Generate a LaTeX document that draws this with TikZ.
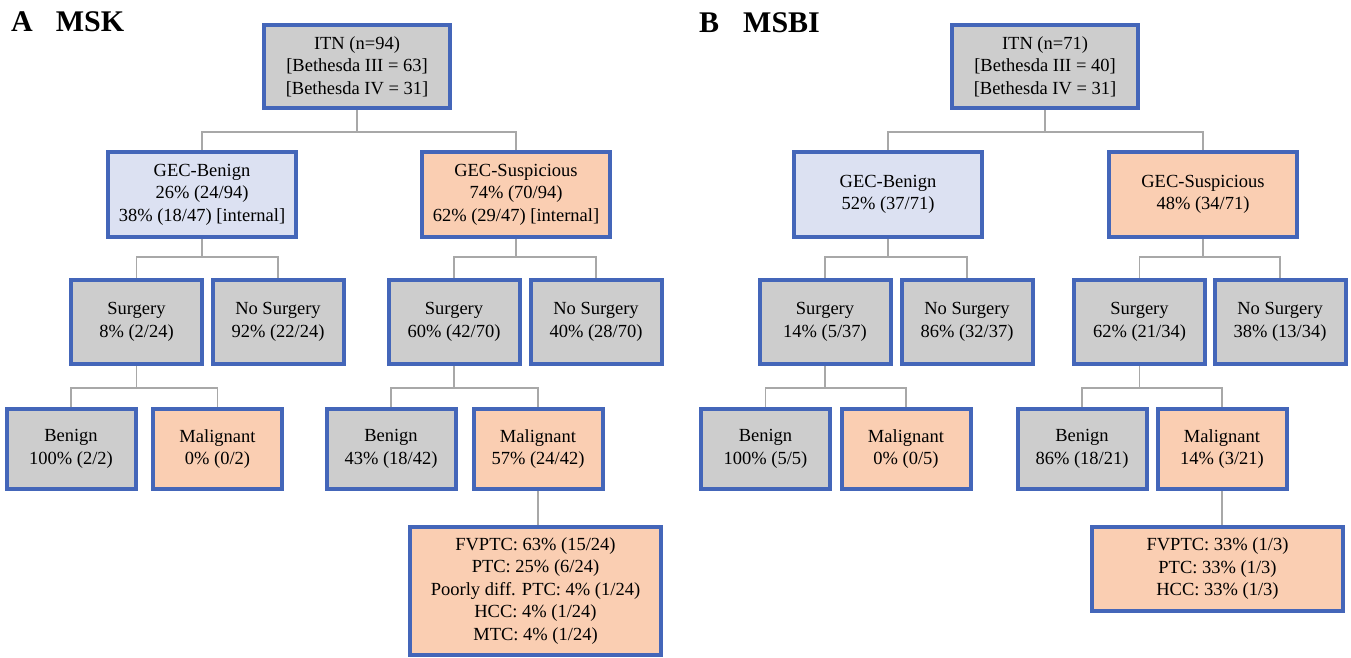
\documentclass[tikz,border=0pt]{standalone}
\usepackage{fontspec}
\setmainfont{Liberation Serif}
\definecolor{boxblue}{RGB}{68,102,185}
\definecolor{boxgrey}{RGB}{205,205,205}
\definecolor{boxlight}{RGB}{220,225,242}
\definecolor{boxpeach}{RGB}{250,206,178}
\definecolor{linkgrey}{RGB}{168,168,168}
\begin{document}
\begin{tikzpicture}[x=1pt,y=-1pt,
		box/.style={draw=boxblue, line width=4pt, align=center, inner sep=0pt, font=\fontsize{18.5}{22.5}\selectfont},
		greybox/.style={box, fill=boxgrey},
		lightbox/.style={box, fill=boxlight},
		peachbox/.style={box, fill=boxpeach},
		topbox/.style={minimum width=186pt, minimum height=83pt},
		gecbox/.style={minimum width=188pt, minimum height=85pt},
		midbox/.style={minimum width=131pt, minimum height=84pt},
		lowbox/.style={minimum width=129pt, minimum height=80pt},
		typebox/.style={minimum width=251pt},
		link/.style={draw=linkgrey, line width=1.5pt},
		panel/.style={anchor=base west, inner sep=0pt, font=\fontsize{30}{32}\selectfont\bfseries}]
	\useasboundingbox (0,0) rectangle (1351,658);
	\def\ya{66.5}
	\def\yb{194.5}
	\def\yc{322}
	\def\yd{449}
	% A: MSK
	\node[panel] (tA) at (11,32) {A\hspace{23pt}MSK};
	\node[greybox, topbox] (itnA) at (357,\ya) {ITN (n=94)\\{}[Bethesda III = 63]\\{}[Bethesda IV = 31]};
	\node[lightbox, gecbox] (benA) at (202,\yb) {GEC-Benign\\26\% (24/94)\\38\% (18/47) [internal]};
	\node[peachbox, gecbox] (susA) at (516,\yb) {GEC-Suspicious\\74\% (70/94)\\62\% (29/47) [internal]};
	\node[greybox, midbox] (surgAb) at (136.5,\yc) {Surgery\\8\% (2/24)};
	\node[greybox, midbox] (nosurgAb) at (278,\yc) {No Surgery\\92\% (22/24)};
	\node[greybox, midbox] (surgAs) at (454,\yc) {Surgery\\60\% (42/70)};
	\node[greybox, midbox] (nosurgAs) at (596,\yc) {No Surgery\\40\% (28/70)};
	\node[greybox, lowbox] (benAb) at (71,\yd) {Benign\\100\% (2/2)};
	\node[peachbox, lowbox] (malAb) at (217.5,\yd) {Malignant\\0\% (0/2)};
	\node[greybox, lowbox] (benAs) at (391,\yd) {Benign\\43\% (18/42)};
	\node[peachbox, lowbox] (malAs) at (538,\yd) {Malignant\\57\% (24/42)};
	\node[peachbox, typebox, minimum height=128pt] (typA) at (535.5,591) {FVPTC: 63\% (15/24)\\PTC: 25\% (6/24)\\Poorly diff. PTC: 4\% (1/24)\\HCC: 4\% (1/24)\\MTC: 4\% (1/24)};
	\draw[link] (itnA.south) -- ++(0,22) coordinate (jA);
	\draw[link] (benA.north) |- (jA) -| (susA.north);
	\draw[link] (benA.south) -- ++(0,18) coordinate (jAb);
	\draw[link] (surgAb.north) |- (jAb) -| (nosurgAb.north);
	\draw[link] (susA.south) -- ++(0,18) coordinate (jAs);
	\draw[link] (surgAs.north) |- (jAs) -| (nosurgAs.north);
	\draw[link] (surgAb.south) -- ++(0,22) coordinate (kAb);
	\draw[link] (benAb.north) |- (kAb) -| (malAb.north);
	\draw[link] (surgAs.south) -- ++(0,22) coordinate (kAs);
	\draw[link] (benAs.north) |- (kAs) -| (malAs.north);
	\draw[link] (malAs.south) -- (malAs.south |- typA.north);
	% B: MSBI
	\node[panel] (tB) at (699,33) {B\hspace{24pt}MSBI};
	\node[greybox, topbox] (itnB) at (1045,\ya) {ITN (n=71)\\{}[Bethesda III = 40]\\{}[Bethesda IV = 31]};
	\node[lightbox, gecbox] (benB) at (888,\yb) {GEC-Benign\\52\% (37/71)};
	\node[peachbox, gecbox] (susB) at (1203,\yb) {GEC-Suspicious\\48\% (34/71)};
	\node[greybox, midbox] (surgBb) at (825,\yc) {Surgery\\14\% (5/37)};
	\node[greybox, midbox] (nosurgBb) at (967,\yc) {No Surgery\\86\% (32/37)};
	\node[greybox, midbox] (surgBs) at (1139.5,\yc) {Surgery\\62\% (21/34)};
	\node[greybox, midbox] (nosurgBs) at (1280,\yc) {No Surgery\\38\% (13/34)};
	\node[greybox, lowbox] (benBb) at (765.5,\yd) {Benign\\100\% (5/5)};
	\node[peachbox, lowbox] (malBb) at (906,\yd) {Malignant\\0\% (0/5)};
	\node[greybox, lowbox] (benBs) at (1082,\yd) {Benign\\86\% (18/21)};
	\node[peachbox, lowbox] (malBs) at (1222,\yd) {Malignant\\14\% (3/21)};
	\node[peachbox, typebox, minimum height=84pt] (typB) at (1217.5,569) {FVPTC: 33\% (1/3)\\PTC: 33\% (1/3)\\HCC: 33\% (1/3)};
	\draw[link] (itnB.south) -- ++(0,22) coordinate (jB);
	\draw[link] (benB.north) |- (jB) -| (susB.north);
	\draw[link] (benB.south) -- ++(0,18) coordinate (jBb);
	\draw[link] (surgBb.north) |- (jBb) -| (nosurgBb.north);
	\draw[link] (susB.south) -- ++(0,18) coordinate (jBs);
	\draw[link] (surgBs.north) |- (jBs) -| (nosurgBs.north);
	\draw[link] (surgBb.south) -- ++(0,22) coordinate (kBb);
	\draw[link] (benBb.north) |- (kBb) -| (malBb.north);
	\draw[link] (surgBs.south) -- ++(0,22) coordinate (kBs);
	\draw[link] (benBs.north) |- (kBs) -| (malBs.north);
	\draw[link] (malBs.south) -- (malBs.south |- typB.north);
\end{tikzpicture}
\end{document}
